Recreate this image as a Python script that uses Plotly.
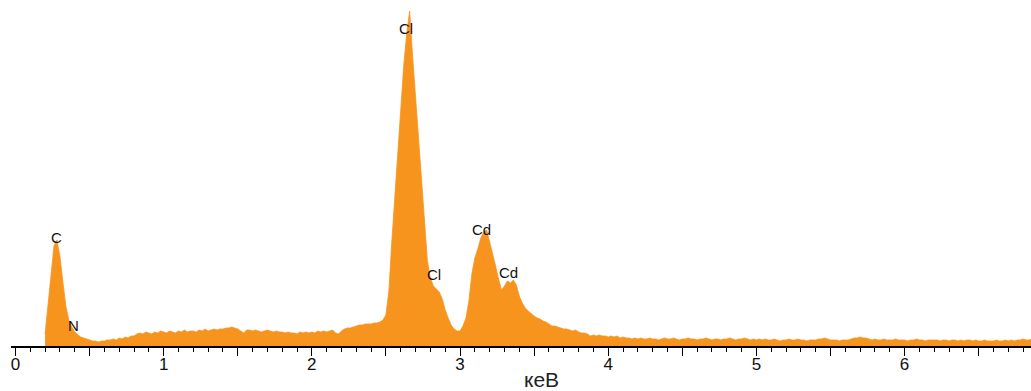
import numpy as np
import plotly.graph_objects as go

# EDS spectrum: counts per channel, channels 0.02 keV wide starting at 0.20 keV
energy_start_kev = 0.20
channel_width_kev = 0.02
counts = [
    12, 40, 75, 100, 106, 90, 64, 40, 26, 19,
    14, 11, 9, 8, 7, 6, 5, 5, 4, 5,
    5, 6, 6, 7, 6, 8, 7, 9, 8, 10,
    10, 12, 13, 12, 14, 13, 12, 14, 13, 15,
    14, 13, 15, 14, 13, 15, 14, 16, 14, 15,
    15, 14, 16, 15, 17, 15, 16, 17, 16, 17,
    17, 18, 18, 19, 18, 17, 15, 13, 16, 16,
    15, 16, 15, 14, 15, 16, 15, 14, 15, 14,
    14, 13, 14, 13, 13, 12, 14, 13, 14, 13,
    14, 13, 15, 14, 15, 14, 15, 16, 13, 12,
    15, 17, 18, 18, 19, 20, 21, 21, 22, 22,
    22, 23, 23, 24, 26, 31, 55, 105, 150, 195,
    245, 280, 312, 335, 290, 250, 205, 160, 120, 85,
    68, 60, 57, 54, 47, 36, 28, 21, 17, 15,
    15, 20, 28, 45, 72, 88, 97, 108, 114, 116,
    104, 93, 80, 67, 56, 60, 65, 63, 66, 61,
    50, 43, 38, 35, 32, 30, 28, 27, 25, 24,
    22, 20, 20, 19, 18, 17, 17, 16, 15, 16,
    14, 13, 13, 12, 10, 11, 10, 11, 10, 10,
    9, 10, 9, 10, 8, 9, 8, 8, 7, 8,
    7, 8, 7, 7, 8, 7, 7, 6, 7, 8,
    7, 7, 8, 7, 6, 7, 7, 8, 7, 7,
    6, 7, 7, 8, 7, 6, 7, 7, 6, 7,
    7, 8, 7, 6, 7, 7, 8, 7, 6, 7,
    6, 7, 6, 7, 6, 6, 7, 6, 5, 6,
    6, 7, 6, 6, 7, 6, 6, 5, 6, 6,
    6, 7, 7, 8, 7, 6, 6, 6, 5, 6,
    6, 6, 7, 8, 8, 9, 8, 8, 7, 6,
    7, 6, 6, 7, 6, 6, 6, 7, 6, 6,
    6, 5, 6, 6, 7, 6, 6, 5, 6, 6,
    6, 6, 5, 6, 6, 5, 6, 6, 5, 6,
    5, 6, 6, 5, 6, 5, 5, 6, 5, 5,
    5, 6, 5, 5, 6, 5, 6, 5, 6, 6,
    7, 6, 6, 7,
]

# Element line markers
peak_labels = ["C", "N", "Cl", "Cl", "Cd", "Cd"]
peak_energy_kev = [0.28, 0.39, 2.636, 2.824, 3.148, 3.324]
peak_label_height = [109, 21, 318, 72, 117, 74]

# Axis ticks
tick_values = [0, 0.5, 1, 1.5, 2, 2.5, 3, 3.5, 4, 4.5, 5, 5.5, 6, 6.5]
tick_text = ["0", "", "1", "", "2", "", "3", "", "4", "", "5", "", "6", ""]
axis_title = "кеВ"

energy = energy_start_kev + channel_width_kev * np.arange(len(counts))

ORANGE = "rgb(247,148,30)"
FONT = "Liberation Sans, Arial"

fig = go.Figure()
fig.add_trace(go.Scatter(
    x=energy, y=counts, mode="lines", fill="tozeroy",
    line=dict(color=ORANGE, width=0.8), fillcolor=ORANGE,
    hoverinfo="skip", showlegend=False,
))

for lab, ex, hy in zip(peak_labels, peak_energy_kev, peak_label_height):
    fig.add_annotation(x=ex, y=hy, text=lab, showarrow=False,
                       xanchor="center", yanchor="middle",
                       font=dict(family=FONT, size=15, color="#111"))

fig.add_annotation(xref="paper", yref="paper", x=0.52, y=-0.096,
                   text=axis_title, showarrow=False,
                   xanchor="center", yanchor="middle",
                   font=dict(family=FONT, size=21, color="#222"))

fig.update_layout(
    width=1031, height=391,
    margin=dict(l=11, r=0, t=0, b=45),
    paper_bgcolor="white", plot_bgcolor="white",
    xaxis=dict(
        range=[-0.03, 6.853], showgrid=False, zeroline=False,
        showline=True, linecolor="black", linewidth=2,
        tickmode="array", tickvals=tick_values, ticktext=tick_text,
        ticks="outside", ticklen=8, tickwidth=1, tickcolor="black",
        ticklabelstandoff=-6,
        tickfont=dict(family=FONT, size=17, color="#111"),
        minor=dict(dtick=0.1, tick0=0, ticks="outside", ticklen=4,
                   tickwidth=1, tickcolor="black", showgrid=False),
        fixedrange=True,
    ),
    yaxis=dict(range=[0, 346], visible=False, fixedrange=True),
)

fig.write_html("out.html")
